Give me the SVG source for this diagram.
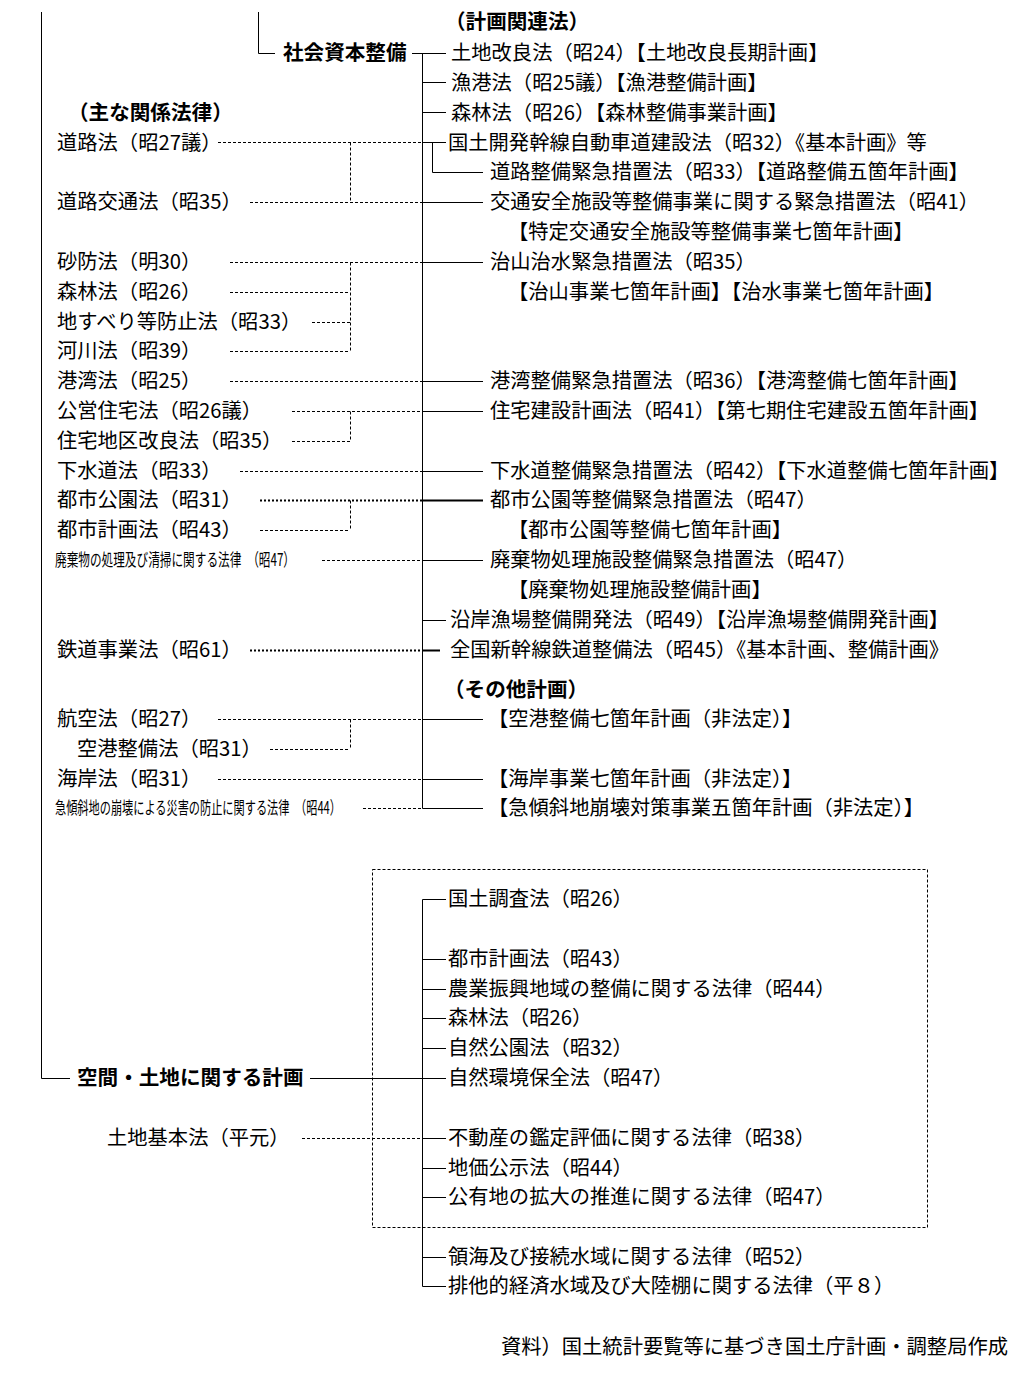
<svg xmlns="http://www.w3.org/2000/svg" width="1024" height="1393" viewBox="0 0 1024 1393">
<style>
text{font-family:"Noto Sans CJK JP","Noto Sans CJK SC",sans-serif;font-size:20.3px;fill:#000}
.b{font-weight:bold;font-size:20.6px}
.sm{font-size:17.5px}
.s{stroke:#000;stroke-width:1;fill:none}
.sk{stroke:#000;stroke-width:2.2;fill:none}
.d{stroke:#000;stroke-width:1;stroke-dasharray:3 2;fill:none}
.dk{stroke:#000;stroke-width:1.8;stroke-dasharray:2 2;fill:none}
</style>
<rect width="1024" height="1393" fill="#fff"/>
<g id="connectors">
<path class="s" d="M41.5 12V1078.5H70"/>
<path class="s" d="M258.5 12V53.5H275"/>
<path class="s" d="M412 53.5H446M422.5 53.5V808.5H483"/>
<path class="s" d="M422.5 82.5H446M422.5 112.5H446M422.5 142.5H446"/>
<path class="s" d="M432.5 142.5V172.5H483"/>
<path class="s" d="M422.5 202.5H483M422.5 262.5H483M422.5 381.5H483M422.5 411.5H483M422.5 471.5H483M422.5 560.5H483M422.5 620.5H446M422.5 719.5H483M422.5 779.5H483"/>
<path class="sk" d="M422.5 500.5H483M422.5 650.5H440"/>
<path class="d" d="M218 142.5H422M250 202.5H422M350.5 142.5V202.5"/>
<path class="d" d="M230 262.5H422M230 292.5H350M312 322.5H350M230 351.5H350M350.5 262.5V351.5"/>
<path class="d" d="M230 381.5H422"/>
<path class="d" d="M292 411.5H422M292 441.5H350M350.5 411.5V441.5"/>
<path class="d" d="M240 471.5H422"/>
<path class="dk" d="M260 500.5H422"/>
<path class="d" d="M260 530.5H350M350.5 500.5V530.5"/>
<path class="d" d="M322 560.5H422"/>
<path class="dk" d="M250 650.5H422"/>
<path class="d" d="M218 719.5H422M270 749.5H350M350.5 719.5V749.5"/>
<path class="d" d="M218 779.5H422M363 808.5H422"/>
<rect class="d" x="372.5" y="869.5" width="555" height="358"/>
<path class="s" d="M446 899.5H422.5V1286.5H446"/>
<path class="s" d="M310 1078.5H446M422.5 959.5H446M422.5 989.5H446M422.5 1018.5H446M422.5 1048.5H446M422.5 1138.5H446M422.5 1168.5H446M422.5 1197.5H446M422.5 1257.5H446"/>
<path class="d" d="M302 1138.5H422"/>
</g>
<g id="n-shakai"><text class="b" x="283" y="60">社会資本整備</text></g>
<g id="n-kukan"><text class="b" x="77" y="1085">空間・土地に関する計画</text></g>
<g id="h-keikaku"><text class="b" x="445" y="29">（計画関連法）</text></g>
<g id="h-omona"><text class="b" x="68" y="120">（主な関係法律）</text></g>
<g id="h-sonota"><text class="b" x="444" y="697">（その他計画）</text></g>
<g id="right-laws">
<text x="451" y="60">土地改良法（昭24）【土地改良長期計画】</text>
<text x="451" y="90">漁港法（昭25議）【漁港整備計画】</text>
<text x="451" y="120">森林法（昭26）【森林整備事業計画】</text>
<text x="448" y="150">国土開発幹線自動車道建設法（昭32）《基本計画》等</text>
<text x="490" y="179">道路整備緊急措置法（昭33）【道路整備五箇年計画】</text>
<text x="490" y="209">交通安全施設等整備事業に関する緊急措置法（昭41）</text>
<text x="508" y="239">【特定交通安全施設等整備事業七箇年計画】</text>
<text x="490" y="269">治山治水緊急措置法（昭35）</text>
<text x="508" y="299">【治山事業七箇年計画】【治水事業七箇年計画】</text>
<text x="490" y="388">港湾整備緊急措置法（昭36）【港湾整備七箇年計画】</text>
<text x="490" y="418">住宅建設計画法（昭41）【第七期住宅建設五箇年計画】</text>
<text x="490" y="478">下水道整備緊急措置法（昭42）【下水道整備七箇年計画】</text>
<text x="490" y="507">都市公園等整備緊急措置法（昭47）</text>
<text x="508" y="537">【都市公園等整備七箇年計画】</text>
<text x="490" y="567">廃棄物処理施設整備緊急措置法（昭47）</text>
<text x="508" y="597">【廃棄物処理施設整備計画】</text>
<text x="450" y="627">沿岸漁場整備開発法（昭49）【沿岸漁場整備開発計画】</text>
<text x="450" y="657">全国新幹線鉄道整備法（昭45）《基本計画、整備計画》</text>
<text x="488" y="726">【空港整備七箇年計画（非法定）】</text>
<text x="488" y="786">【海岸事業七箇年計画（非法定）】</text>
<text x="488" y="815">【急傾斜地崩壊対策事業五箇年計画（非法定）】</text>
</g>
<g id="left-laws">
<text x="57" y="150">道路法（昭27議）</text>
<text x="57" y="209">道路交通法（昭35）</text>
<text x="57" y="269">砂防法（明30）</text>
<text x="57" y="299">森林法（昭26）</text>
<text x="57" y="329">地すべり等防止法（昭33）</text>
<text x="57" y="358">河川法（昭39）</text>
<text x="57" y="388">港湾法（昭25）</text>
<text x="57" y="418">公営住宅法（昭26議）</text>
<text x="57" y="448">住宅地区改良法（昭35）</text>
<text x="57" y="478">下水道法（昭33）</text>
<text x="57" y="507">都市公園法（昭31）</text>
<text x="57" y="537">都市計画法（昭43）</text>
<text class="sm" x="55" y="566" textLength="240" lengthAdjust="spacingAndGlyphs">廃棄物の処理及び清掃に関する法律　（昭47）</text>
<text x="57" y="657">鉄道事業法（昭61）</text>
<text x="57" y="726">航空法（昭27）</text>
<text x="77" y="756">空港整備法（昭31）</text>
<text x="57" y="786">海岸法（昭31）</text>
<text class="sm" x="55" y="814" textLength="286" lengthAdjust="spacingAndGlyphs">急傾斜地の崩壊による災害の防止に関する法律　（昭44）</text>
</g>
<g id="land-laws">
<text x="448" y="906">国土調査法（昭26）</text>
<text x="448" y="966">都市計画法（昭43）</text>
<text x="448" y="996">農業振興地域の整備に関する法律（昭44）</text>
<text x="448" y="1025">森林法（昭26）</text>
<text x="448" y="1055">自然公園法（昭32）</text>
<text x="448" y="1085">自然環境保全法（昭47）</text>
<text x="448" y="1145">不動産の鑑定評価に関する法律（昭38）</text>
<text x="448" y="1175">地価公示法（昭44）</text>
<text x="448" y="1204">公有地の拡大の推進に関する法律（昭47）</text>
<text x="448" y="1264">領海及び接続水域に関する法律（昭52）</text>
<text x="448" y="1293">排他的経済水域及び大陸棚に関する法律（平８）</text>
</g>
<g id="n-tochikihon"><text x="107" y="1145">土地基本法（平元）</text></g>
<g id="source"><text x="1008" y="1354" text-anchor="end">資料）国土統計要覧等に基づき国土庁計画・調整局作成</text></g>
</svg>
